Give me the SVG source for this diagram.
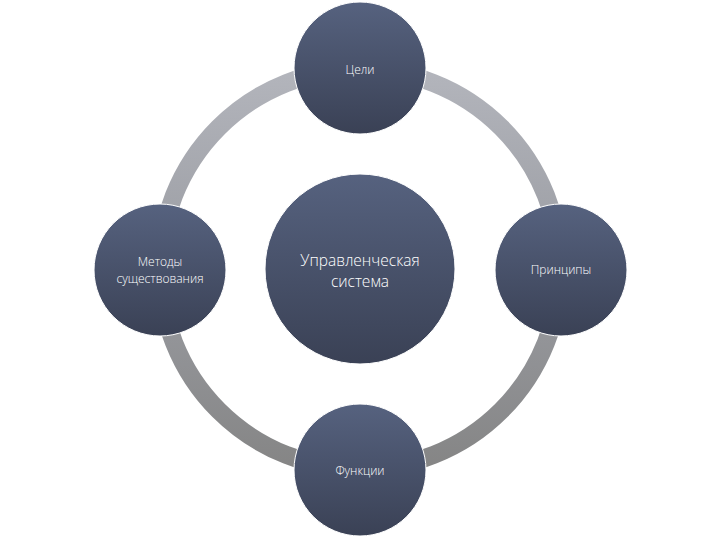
<svg xmlns="http://www.w3.org/2000/svg" width="720" height="540" viewBox="0 0 720 540">
<defs>
<linearGradient id="ring" x1="0" y1="0" x2="0" y2="1">
<stop offset="0" stop-color="#b3b5bc"/>
<stop offset="0.5" stop-color="#9a9ca2"/>
<stop offset="1" stop-color="#858585"/>
</linearGradient>
<linearGradient id="node" x1="0" y1="0" x2="0" y2="1">
<stop offset="0" stop-color="#56627f"/>
<stop offset="1" stop-color="#3a4155"/>
</linearGradient>
<style>
.n{fill:url(#node);stroke:#ffffff;stroke-width:1}
.t{fill:#ffffff;font-family:"Open Sans","Liberation Sans",sans-serif;font-weight:300;text-anchor:middle}
</style>
</defs>
<rect width="720" height="540" fill="#ffffff"/>
<g id="connectors">
<circle cx="360" cy="269" r="200" fill="none" stroke="url(#ring)" stroke-width="18"/>
</g>
<g id="center">
<circle class="n" cx="360" cy="269" r="95"/>
<text class="t" x="360" y="266" font-size="15.5">Управленческая</text>
<text class="t" x="360" y="287" font-size="15.5">система</text>
</g>
<g id="top">
<circle class="n" cx="360" cy="68" r="66"/>
<text class="t" x="360" y="74" font-size="12">Цели</text>
</g>
<g id="right">
<circle class="n" cx="561" cy="270" r="66"/>
<text class="t" x="561" y="274" font-size="12">Принципы</text>
</g>
<g id="bottom">
<circle class="n" cx="360" cy="470" r="66"/>
<text class="t" x="360" y="475" font-size="12">Функции</text>
</g>
<g id="left">
<circle class="n" cx="160" cy="270" r="66"/>
<text class="t" x="160" y="266" font-size="12">Методы</text>
<text class="t" x="160" y="283" font-size="12">существования</text>
</g>
</svg>
